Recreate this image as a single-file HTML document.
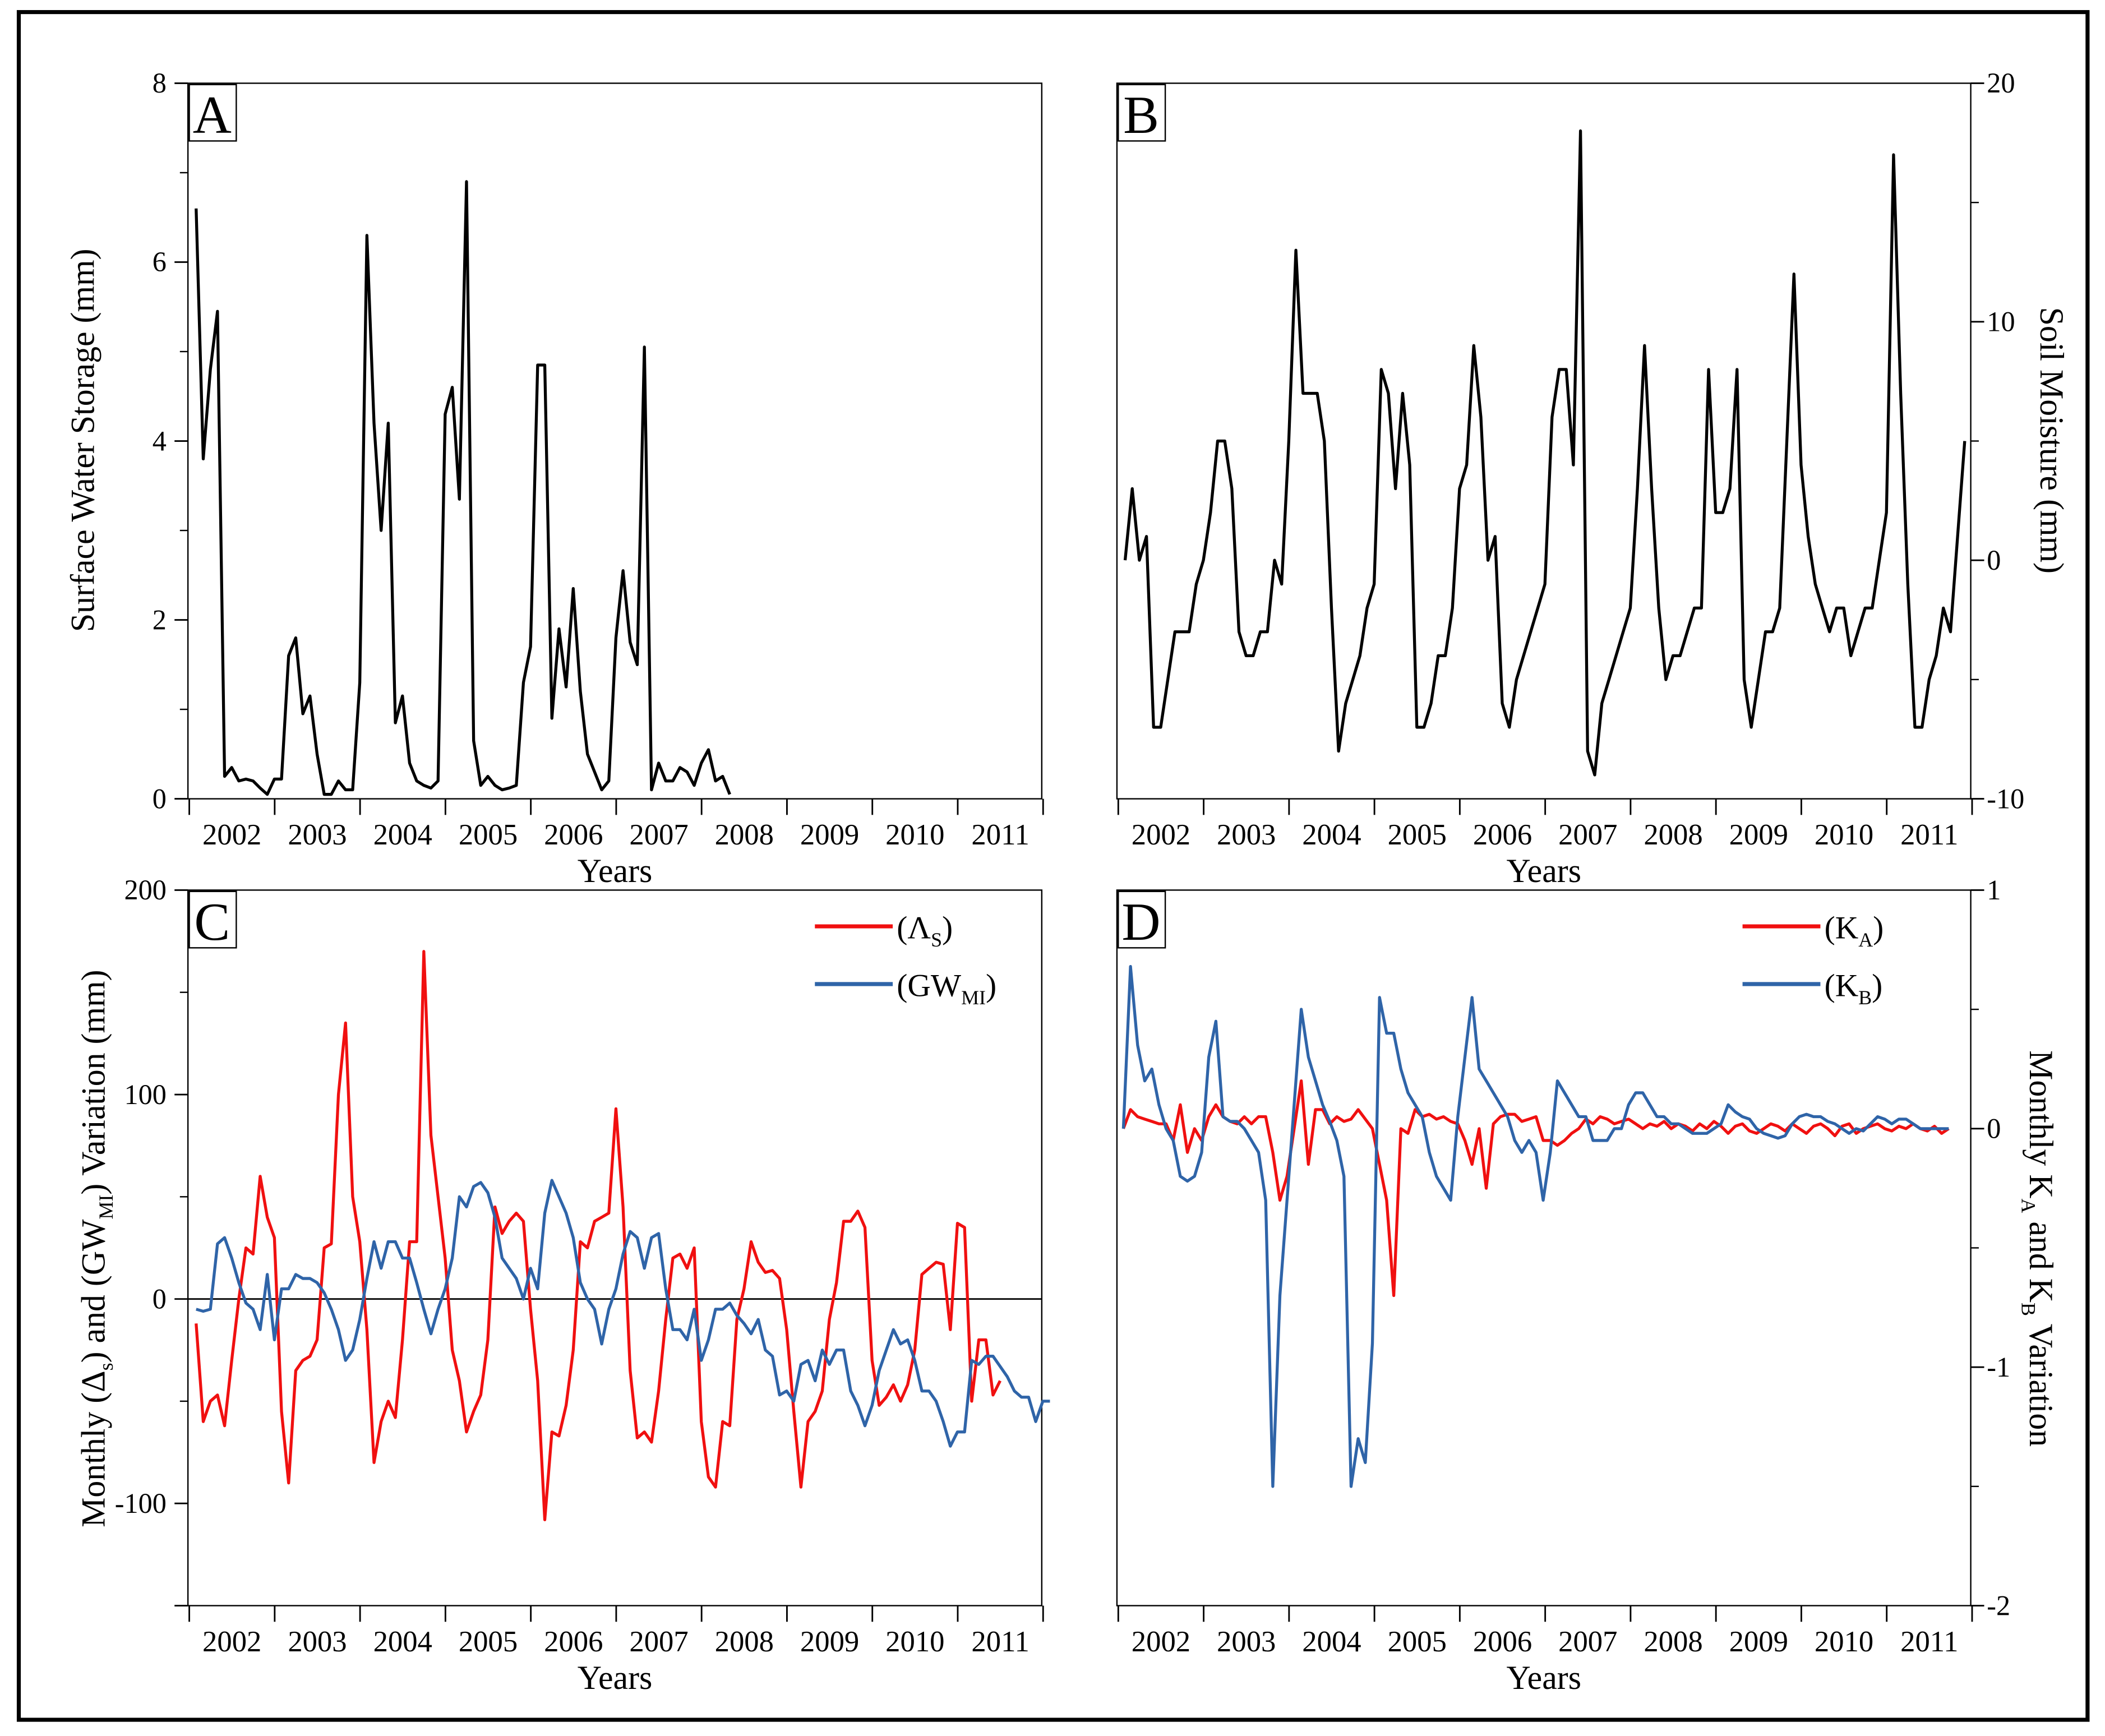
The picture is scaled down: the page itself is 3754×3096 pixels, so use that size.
<!DOCTYPE html>
<html><head><meta charset="utf-8"><style>
html,body{margin:0;padding:0;background:#fff;}
svg, svg text, svg tspan{font-family:"Liberation Serif","DejaVu Serif","Times New Roman",serif !important;}
</style></head><body>
<svg id="fig" width="3754" height="3091" viewBox="0 0 1568 1291" preserveAspectRatio="none" xmlns="http://www.w3.org/2000/svg">
<rect x="0" y="0" width="1568" height="1291" fill="#fff"/>
<rect x="14" y="9" width="1541" height="1272" fill="none" stroke="#000" stroke-width="3"/>
<g id="root"></g>
</svg>
<script>
// ---- data (monthly, starting ~Feb 2002) ----
const years = ["2002","2003","2004","2005","2006","2007","2008","2009","2010","2011"];
const ticksA = [0,2,4,6,8];
const ticksB = [-10,0,10,20];
const ticksC = [-100,0,100,200];
const ticksD = [-2,-1,0,1];
const surfaceWater = [6.6,3.8,4.8,5.45,0.25,0.35,0.2,0.22,0.2,0.12,0.05,0.22,0.22,1.6,1.8,0.95,1.15,0.5,0.05,0.05,0.2,0.1,0.1,1.3,6.3,4.2,3.0,4.2,0.85,1.15,0.4,0.2,0.15,0.12,0.2,4.3,4.6,3.35,6.9,0.65,0.15,0.25,0.15,0.1,0.12,0.15,1.3,1.7,4.85,4.85,0.9,1.9,1.25,2.35,1.2,0.5,0.3,0.1,0.2,1.8,2.55,1.75,1.5,5.05,0.1,0.4,0.2,0.2,0.35,0.3,0.15,0.4,0.55,0.2,0.25,0.05];
const soilMoisture = [0,3,0,1,-7,-7,-5,-3,-3,-3,-1,0,2,5,5,3,-3,-4,-4,-3,-3,0,-1,5,13,7,7,7,5,-2,-8,-6,-5,-4,-2,-1,8,7,3,7,4,-7,-7,-6,-4,-4,-2,3,4,9,6,0,1,-6,-7,-5,-4,-3,-2,-1,6,8,8,4,18,-8,-9,-6,-5,-4,-3,-2,3,9,3,-2,-5,-4,-4,-3,-2,-2,8,2,2,3,8,-5,-7,-5,-3,-3,-2,5,12,4,1,-1,-2,-3,-2,-2,-4,-3,-2,-2,0,2,17,7,-1,-7,-7,-5,-4,-2,-3,1,5];
const deltaS = [-12,-60,-50,-47,-62,-30,0,25,22,60,40,30,-55,-90,-35,-30,-28,-20,25,27,100,135,50,28,-15,-80,-60,-50,-58,-20,28,28,170,80,50,20,-25,-40,-65,-55,-47,-20,45,32,38,42,38,-5,-40,-108,-65,-67,-52,-25,28,25,38,40,42,93,45,-35,-68,-65,-70,-45,-10,20,22,15,25,-60,-87,-92,-60,-62,-10,5,28,18,13,14,10,-15,-55,-92,-60,-55,-45,-10,8,38,38,43,35,-30,-52,-48,-42,-50,-42,-25,12,15,18,17,-15,37,35,-50,-20,-20,-47,-40];
const gwMI = [-5,-6,-5,27,30,20,8,-2,-5,-15,12,-20,5,5,12,10,10,8,3,-5,-15,-30,-25,-10,10,28,15,28,28,20,20,8,-5,-17,-5,5,20,50,45,55,57,52,40,20,15,10,0,15,5,42,58,50,42,30,8,0,-5,-22,-5,5,22,33,30,15,30,32,5,-15,-15,-20,-5,-30,-20,-5,-5,-2,-8,-12,-17,-10,-25,-28,-47,-45,-50,-32,-30,-40,-25,-32,-25,-25,-45,-52,-62,-52,-35,-25,-15,-22,-20,-30,-45,-45,-50,-60,-72,-65,-65,-30,-32,-28,-28,-33,-38,-45,-48,-48,-60,-50,-50];
const kA = [0,0.08,0.05,0.04,0.03,0.02,0.02,-0.05,0.1,-0.1,0,-0.05,0.05,0.1,0.05,0.03,0.02,0.05,0.02,0.05,0.05,-0.1,-0.3,-0.2,0,0.2,-0.15,0.08,0.08,0.02,0.05,0.03,0.04,0.08,0.04,0,-0.15,-0.3,-0.7,0,-0.02,0.08,0.05,0.06,0.04,0.05,0.03,0.02,-0.05,-0.15,0,-0.25,0.02,0.05,0.06,0.06,0.03,0.04,0.05,-0.05,-0.05,-0.07,-0.05,-0.02,0,0.04,0.02,0.05,0.04,0.02,0.03,0.04,0.02,0,0.02,0.01,0.03,0,0.02,0.01,-0.01,0.02,0,0.03,0.01,-0.02,0.01,0.02,-0.01,-0.02,0,0.02,0.01,-0.01,0.02,0,-0.02,0.01,0.02,0,-0.03,0.01,0.02,-0.02,0,0.01,0.02,0,-0.01,0.01,0,0.02,0,-0.01,0.01,-0.02,0];
const kB = [0,0.68,0.35,0.2,0.25,0.1,0,-0.05,-0.2,-0.22,-0.2,-0.1,0.3,0.45,0.05,0.03,0.03,0,-0.05,-0.1,-0.3,-1.5,-0.7,-0.3,0.1,0.5,0.3,0.2,0.1,0.03,-0.05,-0.2,-1.5,-1.3,-1.4,-0.9,0.55,0.4,0.4,0.25,0.15,0.1,0.05,-0.1,-0.2,-0.25,-0.3,0.05,0.3,0.55,0.25,0.2,0.15,0.1,0.05,-0.05,-0.1,-0.05,-0.1,-0.3,-0.1,0.2,0.15,0.1,0.05,0.05,-0.05,-0.05,-0.05,0,0,0.1,0.15,0.15,0.1,0.05,0.05,0.02,0.02,0,-0.02,-0.02,-0.02,0,0.02,0.1,0.07,0.05,0.04,0,-0.02,-0.03,-0.04,-0.03,0.02,0.05,0.06,0.05,0.05,0.03,0.02,0,-0.02,0,-0.01,0.02,0.05,0.04,0.02,0.04,0.04,0.02,0,0,0,0,0];

const NS = "http://www.w3.org/2000/svg";
const root = document.getElementById('root');
function mk(tag, attrs, parent){const e=document.createElementNS(NS,tag);for(const k in attrs)e.setAttribute(k,attrs[k]);(parent||root).appendChild(e);return e;}
const YW = 63.6;

function panel(p){
  const g = mk('g',{});
  
  
  const x0=p.x, x1=p.x+636, y0=62+p.dy, y1=595+p.dy;
  const yS = v => y1 - (v-p.min)/(p.max-p.min)*(y1-y0);
  const xS = t => x0 + 1 + t*YW;
  const frame = mk('rect',{x:x0,y:y0,width:x1-x0,height:y1-y0,fill:'none',stroke:'#000','stroke-width':1},g);
  
  
  for(let i=0;i<=10;i++){
    mk('line',{x1:xS(i),x2:xS(i),y1:y1,y2:y1+12,stroke:'#000','stroke-width':1.2},g);
  }
  years.forEach((yr,i)=>{
    const t = mk('text',{x:xS(i+0.5),y:y1+34,'font-size':22,'text-anchor':'middle'},g);
    t.textContent=yr;
    
    
  });
  const xt = mk('text',{x:(x0+x1)/2,y:y1+62,'font-size':25,'text-anchor':'middle'},g);
  xt.textContent='Years';
  
  
  const ax = p.right ? x1 : x0, dir = p.right ? 1 : -1;
  const tk = p.ticks;
  for(let i=0;i<tk.length;i++){
    mk('line',{x1:ax,x2:ax+dir*10,y1:yS(tk[i]),y2:yS(tk[i]),stroke:'#000','stroke-width':1.2},g);
    if(i<tk.length-1){const m=(tk[i]+tk[i+1])/2;mk('line',{x1:ax,x2:ax+dir*6,y1:yS(m),y2:yS(m),stroke:'#000','stroke-width':1},g);}
    const l = mk('text',{x:ax+dir*(p.right?12:16),y:yS(tk[i])+7,'font-size':21,'text-anchor':p.right?'start':'end'},g);
    l.textContent=String(tk[i]);
    
    
  }
  if(p.extraMin!==undefined){mk('line',{x1:ax,x2:ax+dir*10,y1:y1,y2:y1,stroke:'#000','stroke-width':1.2},g);}
  if(p.zero){mk('line',{x1:x0,x2:x1,y1:yS(0),y2:yS(0),stroke:'#000','stroke-width':1.2},g);}
  p.series.forEach(s=>{
    const pts = s.data.map((v,i)=>xS(s.t0+i/12).toFixed(1)+','+yS(v).toFixed(1)).join(' ');
    const pl = mk('polyline',{points:pts,fill:'none',stroke:s.color,'stroke-width':2.2,'stroke-linejoin':'round'},g);
    
    
  });
  const lb = mk('rect',{x:x0+1,y:y0+1,width:35,height:42,fill:'#fff',stroke:'#000','stroke-width':1},g);
  
  
  const lt = mk('text',{x:x0+18,y:y0+37,'font-size':40,'text-anchor':'middle'},g);
  lt.textContent=p.letter;
  
  
  return {g,xS,yS,x0,x1,y0,y1};
}

panel({id:'a',name:'panel-a-surface-water',letter:'A',x:140,dy:0,min:0,max:8,ticks:ticksA,right:false,
  series:[{name:'surface-water-line',data:surfaceWater,color:'#000',t0:0.08}]});
panel({id:'b',name:'panel-b-soil-moisture',letter:'B',x:832,dy:0,min:-10,max:20,ticks:ticksB,right:true,
  series:[{name:'soil-moisture-line',data:soilMoisture,color:'#000',t0:0.08}]});
panel({id:'c',name:'panel-c-variation',letter:'C',x:140,dy:601,min:-150,max:200,ticks:ticksC,right:false,zero:true,extraMin:true,
  series:[{name:'delta-s-line',data:deltaS,color:'#f01010',t0:0.08},{name:'gw-mi-line',data:gwMI,color:'#2f64a8',t0:0.08}]});
panel({id:'d',name:'panel-d-k-variation',letter:'D',x:832,dy:601,min:-2,max:1,ticks:ticksD,right:true,
  series:[{name:'k-a-line',data:kA,color:'#f01010',t0:0.06},{name:'k-b-line',data:kB,color:'#2f64a8',t0:0.06}]});
</script>
<svg style="position:absolute;left:0;top:0" width="3754" height="3091" viewBox="0 0 1568 1291" preserveAspectRatio="none" xmlns="http://www.w3.org/2000/svg">
  <text transform="translate(70,328) rotate(-90)" font-size="25" text-anchor="middle">Surface Water Storage (mm)</text>
  <text transform="translate(1520,328) rotate(90)" font-size="25" text-anchor="middle">Soil Moisture (mm)</text>
  <text transform="translate(78,930) rotate(-90)" font-size="25" text-anchor="middle">Monthly (Δ<tspan font-size="15" dy="6">s</tspan><tspan dy="-6">) and (GW</tspan><tspan font-size="15" dy="6">MI</tspan><tspan dy="-6">) Variation (mm)</tspan></text>
  <text transform="translate(1512,930) rotate(90)" font-size="25" text-anchor="middle">Monthly K<tspan font-size="15" dy="6">A</tspan><tspan dy="-6"> and K</tspan><tspan font-size="15" dy="6">B</tspan><tspan dy="-6"> Variation</tspan></text>
  <g>
    <line x1="607" y1="690" x2="665" y2="690" stroke="#f01010" stroke-width="3"/>
    <text x="668" y="699" font-size="24">(Λ<tspan font-size="15" dy="6">S</tspan><tspan dy="-6">)</tspan></text>
    <line x1="607" y1="733" x2="665" y2="733" stroke="#2f64a8" stroke-width="3"/>
    <text x="668" y="742" font-size="24">(GW<tspan font-size="15" dy="6">MI</tspan><tspan dy="-6">)</tspan></text>
  </g>
  <g>
    <line x1="1298" y1="690" x2="1356" y2="690" stroke="#f01010" stroke-width="3"/>
    <text x="1359" y="699" font-size="24">(K<tspan font-size="15" dy="6">A</tspan><tspan dy="-6">)</tspan></text>
    <line x1="1298" y1="733" x2="1356" y2="733" stroke="#2f64a8" stroke-width="3"/>
    <text x="1359" y="742" font-size="24">(K<tspan font-size="15" dy="6">B</tspan><tspan dy="-6">)</tspan></text>
  </g>
</svg>
</body></html>
